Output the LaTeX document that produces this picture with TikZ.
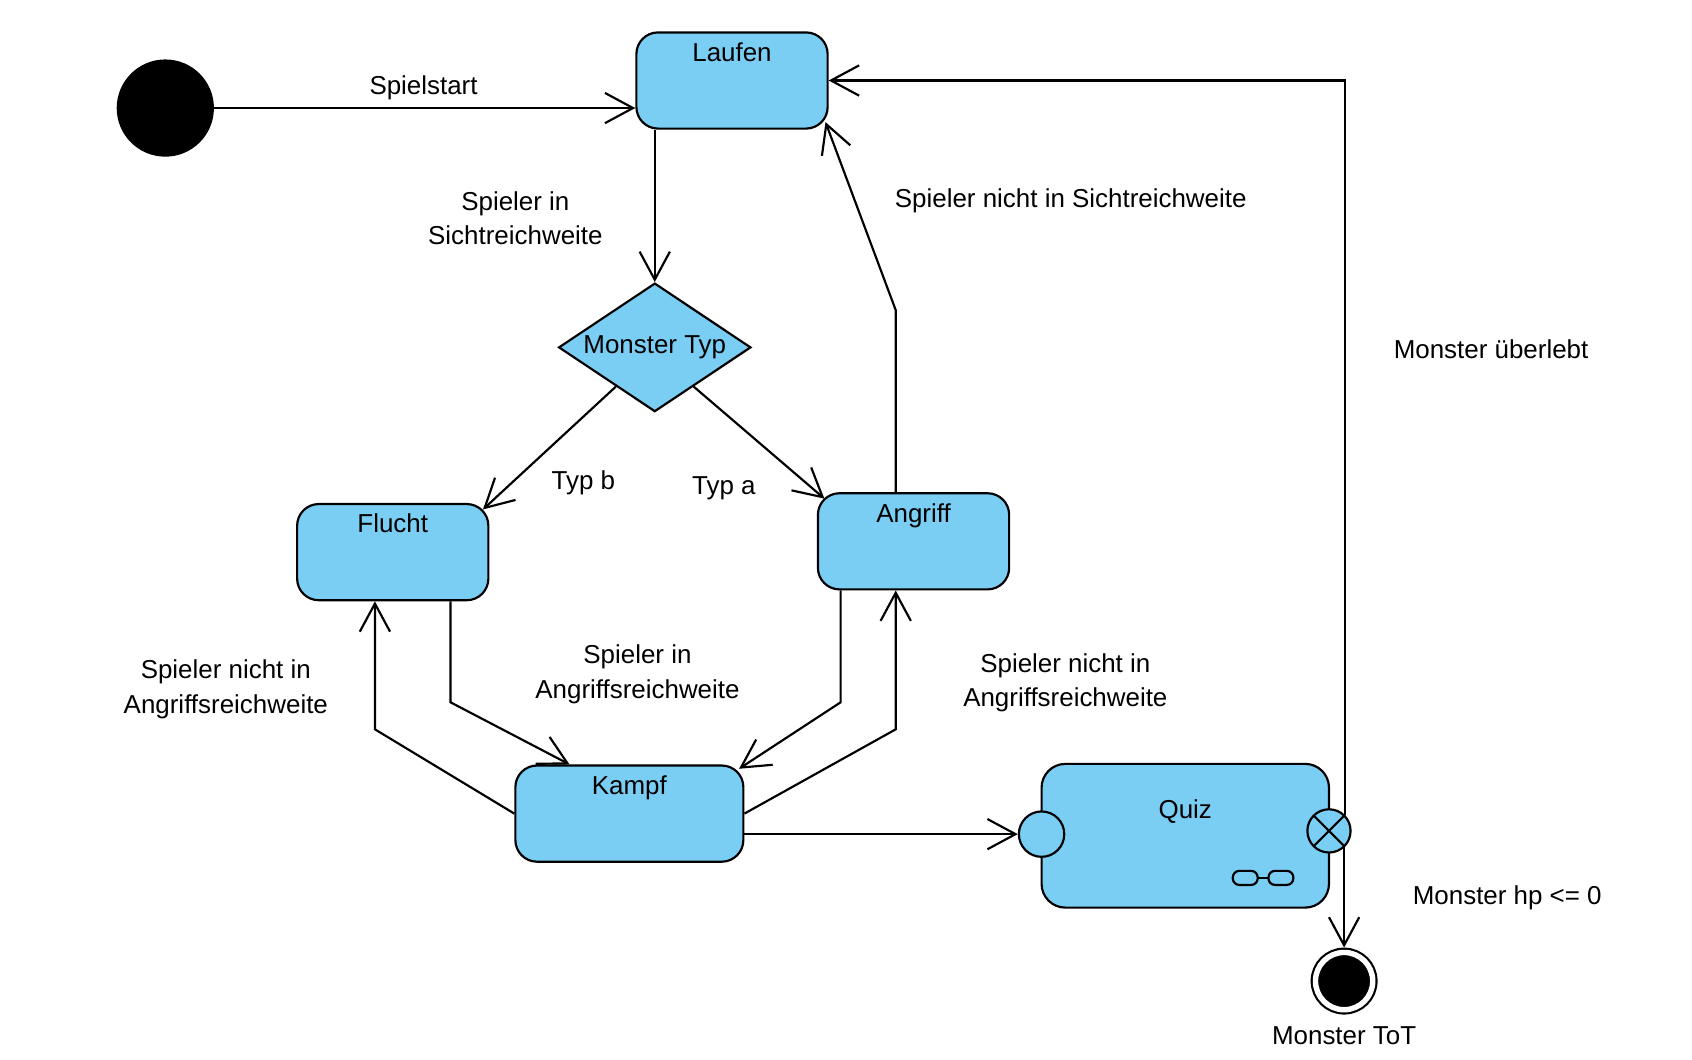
\documentclass[tikz,border=0pt]{standalone}
\usepackage{fontspec}
\setmainfont{Liberation Sans}
\usetikzlibrary{shapes.geometric,arrows.meta,calc}
\definecolor{zustandblau}{HTML}{7ACEF4}
\tikzset{
  zustand/.style={draw, fill=zustandblau, line width=1pt, rounded corners=10pt,
    minimum width=88.5pt, minimum height=44.5pt, inner sep=0pt},
  titel/.style={anchor=north, yshift=-1pt, inner sep=4pt},
  entscheidung/.style={diamond, draw, fill=zustandblau, line width=1pt, aspect=1.5,
    minimum width=89pt, minimum height=59.5pt, inner sep=0pt},
  start/.style={circle, fill=black, minimum size=45pt, inner sep=0pt},
  ende/.style={circle, draw, fill=black, line width=1pt, double=white, double distance=2.5pt,
    minimum size=26.5pt, inner sep=0pt, outer sep=2.25pt},
  punkt/.style={circle, draw, fill=zustandblau, line width=1pt, minimum size=21pt, inner sep=0pt},
  austritt/.style={punkt, minimum size=20pt, path picture={
    \draw [line width=1pt] (path picture bounding box.north west) -- (path picture bounding box.south east)
      (path picture bounding box.north east) -- (path picture bounding box.south west);}},
  pfeil/.style={line width=1pt, -{Straight Barb[length=13pt, width=14pt]}},
  beschriftung/.style={align=center, inner sep=0pt}
}
\begin{document}
\begin{tikzpicture}[x=0.5pt, y=-0.5pt, font=\fontsize{12}{16}\selectfont]
                    \useasboundingbox (0,0) rectangle (1566,981);
                    \node [start] (start) at (153,100) {};
                    \node [zustand, label={[titel]north:Laufen}] (laufen) at (677.5,74.5) {};
                    \node [entscheidung] (typ) at (606,321.5) {Monster Typ};
                    \node [zustand, label={[titel]north:Flucht}] (flucht) at (363.5,511) {};
                    \node [zustand, label={[titel]north:Angriff}] (angriff) at (845.5,501) {};
                    \node [zustand, minimum width=105.5pt, label={[titel]north:Kampf}] (kampf) at (582.5,753) {};
                    \node [zustand, minimum width=133pt, minimum height=66.5pt, rounded corners=11pt,
                      label={[titel, yshift=-12pt]north:Quiz}] (quiz) at (1097,773.5) {};
                    \node [punkt] (eintritt) at (964,772) {};
                    \node [austritt] (austritt) at (1230,769) {};
                    \node [ende, label={[label distance=2pt]below:Monster ToT}] (ende) at (1244,908) {};
                    \draw [line width=1pt, rounded corners=3pt] (1141,806) rectangle (1164,819)
                      (1174,806) rectangle (1197,819);
                    \draw [line width=1pt] (1164,812.5) -- (1174,812.5);
                    \draw [pfeil] (start.east) -- (start.east -| laufen.west);
                    \node [beschriftung] (lSpielstart) at (392,81) {Spielstart};
                    \draw [pfeil] (typ.north |- laufen.south) -- (typ.north);
                    \node [beschriftung] (lSicht) at (477,202) {Spieler in\\Sichtreichweite};
                    \draw [pfeil] ($(typ.west)!0.6!(typ.south)$) -- ($(flucht.north east)+(-6,6)$);
                    \node [beschriftung] (lTypB) at (540,447) {Typ b};
                    \draw [pfeil] ($(typ.east)!0.6!(typ.south)$) -- ($(angriff.north west)+(7,6)$);
                    \node [beschriftung] (lTypA) at (670,452) {Typ a};
                    \coordinate (knickA) at (829,287);
                    \draw [pfeil] (angriff.north -| knickA) -- (knickA) -- ($(laufen.south east)+(-3,-7)$);
                    \node [beschriftung] (lNichtSicht) at (991,186) {Spieler nicht in Sichtreichweite};
                    \draw [pfeil] (austritt.north east) -- (austritt.north east |- laufen.east) -- (laufen.east);
                    \node [beschriftung] (lUeberlebt) at (1380,323) {Monster überlebt};
                    \draw [pfeil] (austritt.south east -| ende.north) -- (ende.north);
                    \node [beschriftung] (lHp) at (1395,831) {Monster hp <= 0};
                    \coordinate (knickB) at (417,650);
                    \draw [pfeil] (flucht.south -| knickB) -- (knickB) -- ($(kampf.north west)!0.24!(kampf.north east)$);
                    \node [beschriftung] (lAngriffIn) at (590,624) {Spieler in\\Angriffsreichweite};
                    \coordinate (knickC) at (347,675);
                    \draw [pfeil] (kampf.west) -- (knickC) -- (flucht.south -| knickC);
                    \node [beschriftung] (lFluchtNicht) at (209,638) {Spieler nicht in\\Angriffsreichweite};
                    \coordinate (knickD) at (778,650);
                    \draw [pfeil] (angriff.south -| knickD) -- (knickD) -- ($(kampf.north east)+(-5,4)$);
                    \coordinate (knickE) at (829,675);
                    \draw [pfeil] (kampf.east) -- (knickE) -- (angriff.south -| knickE);
                    \node [beschriftung] (lAngriffNicht) at (986,632) {Spieler nicht in\\Angriffsreichweite};
                    \draw [pfeil] (eintritt -| kampf.east) -- (eintritt);
                \end{tikzpicture}
\end{document}
